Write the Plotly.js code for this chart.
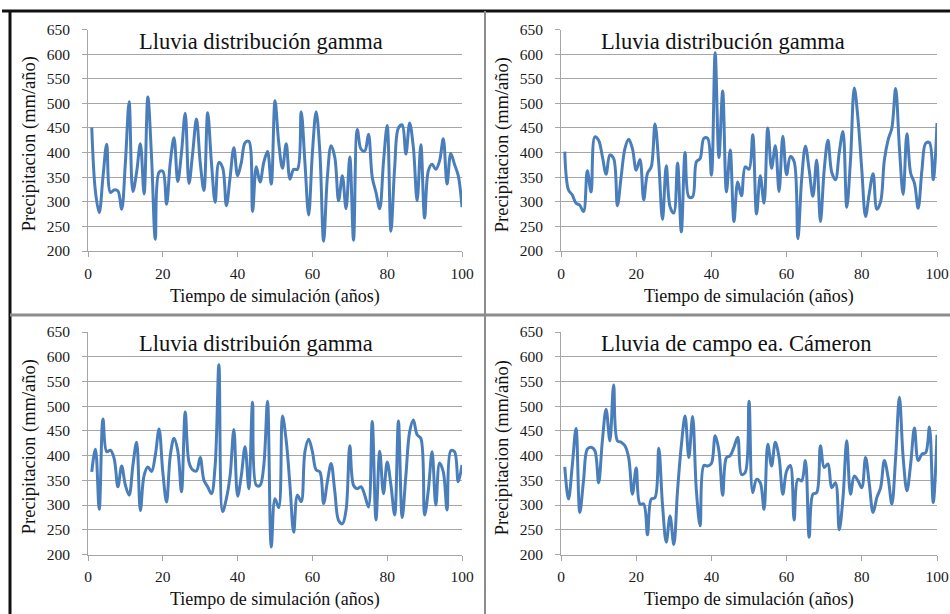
<!DOCTYPE html>
<html>
<head>
<meta charset="utf-8">
<script src="https://cdn.plot.ly/plotly-3.0.1.min.js"></script>
<style>
  html, body { margin: 0; padding: 0; background: #ffffff; }
  #chart { width: 950px; height: 614px; }
</style>
</head>
<body>
<div id="chart"></div>
<script>
// Annual rainfall series (mm/año), one value per simulated year 1..100
const lluviaGamma1 = [
  451, 320, 278, 350, 417, 319, 324, 322, 285, 380,
  503, 321, 360, 418, 316, 513, 390, 224, 360, 362,
  295, 380, 430, 341, 400, 480, 337, 400, 468, 380,
  323, 481, 380, 299, 380, 369, 292, 350, 410, 353,
  380, 420, 423, 280, 371, 340, 380, 402, 336, 505,
  420, 368, 418, 346, 366, 366, 483, 380, 273, 400,
  483, 400, 220, 350, 414, 390, 302, 353, 286, 391,
  222, 447, 407, 403, 437, 350, 319, 286, 380, 455,
  240, 370, 450, 456, 397, 460, 410, 302, 416, 267,
  363, 376, 366, 383, 428, 336, 398, 376, 353, 289
];
const lluviaGamma2 = [
  402, 324, 314, 297, 293, 280, 363, 320, 432, 425,
  392, 356, 395, 388, 292, 351, 408, 427, 408, 364,
  386, 304, 358, 371, 458, 378, 264, 373, 290, 277,
  379, 239, 400, 310, 310, 381, 388, 429, 429, 354,
  603, 390, 525, 320, 405, 260, 340, 312, 371, 366,
  436, 275, 353, 297, 450, 368, 414, 321, 433, 355,
  392, 382, 225, 345, 413, 365, 311, 385, 260, 365,
  425, 360, 345, 400, 443, 289, 385, 531, 467, 365,
  270, 318, 357, 285, 300, 385, 426, 450, 530, 410,
  315, 438, 358, 338, 287, 365, 419, 420, 345, 460
];
const lluviaGamma3 = [
  367, 413, 291, 474, 408, 411, 394, 337, 379, 340,
  320, 380, 427, 289, 360, 377, 368, 401, 454, 367,
  306, 400, 435, 410, 327, 488, 387, 371, 369, 396,
  350, 337, 323, 380, 584, 287, 313, 360, 453, 318,
  360, 418, 333, 508, 340, 340, 380, 510, 215, 313,
  295, 480, 430, 340, 245, 320, 307, 408, 433, 408,
  371, 367, 303, 347, 384, 327, 269, 262, 290, 420,
  340, 333, 337, 320, 296, 469, 270, 409, 323, 387,
  340, 280, 470, 275, 360, 448, 472, 442, 435, 280,
  330, 408, 300, 385, 367, 290, 410, 408, 347, 381
];
const lluviaCampo = [
  377, 312, 380, 455, 285, 350, 413, 417, 410, 345,
  430, 494, 430, 543, 430, 427, 420, 396, 322, 375,
  302, 302, 240, 312, 315, 415, 300, 225, 278, 220,
  330, 420, 480, 396, 479, 330, 258, 380, 379, 384,
  440, 410, 320, 396, 400, 417, 437, 362, 366, 510,
  325, 352, 345, 291, 423, 379, 427, 396, 322, 369,
  380, 270, 352, 349, 390, 235, 322, 325, 420, 376,
  383, 335, 345, 250, 315, 430, 322, 359, 349, 335,
  396, 342, 285, 315, 335, 390, 356, 302, 396, 518,
  396, 329, 383, 456, 390, 403, 406, 458, 305, 442
];

const panelTitles = [
  'Lluvia distribución gamma',
  'Lluvia distribución gamma',
  'Lluvia distribuión gamma',
  'Lluvia de campo ea. Cámeron'
];
const xTickVals = [0, 20, 40, 60, 80, 100];
const yTickVals = [200, 250, 300, 350, 400, 450, 500, 550, 600, 650];
const xAxisLabel = 'Tiempo de simulación (años)';
const yAxisLabel = 'Precipitacion (mm/año)';

const years = [];
for (let i = 1; i <= 100; i++) years.push(i);

// figure geometry in pixels
const W = 950, H = 614;
const fx = px => px / W;
const fy = py => 1 - py / H;

const panels = [
  { data: lluviaGamma1, left: 88,  right: 462, top: 29.5, bottom: 251, titleX: 137 },
  { data: lluviaGamma2, left: 561, right: 937, top: 29.5, bottom: 251, titleX: 599 },
  { data: lluviaGamma3, left: 88,  right: 462, top: 332,  bottom: 554.5, titleX: 137 },
  { data: lluviaCampo,  left: 561, right: 937, top: 332,  bottom: 554.5, titleX: 599 }
];

const serif = '"Liberation Serif", "DejaVu Serif", serif';
const lineBlue = '#4a7ebb';
const gridGray = '#a6a6a6';

const traces = [];
const layout = {
  width: W, height: H,
  margin: { l: 0, r: 0, t: 0, b: 0 },
  paper_bgcolor: '#ffffff',
  plot_bgcolor: '#ffffff',
  showlegend: false,
  font: { family: serif, size: 13, color: '#1a1a1a' },
  annotations: [],
  shapes: []
};

panels.forEach((p, i) => {
  const k = i === 0 ? '' : String(i + 1);
  traces.push({
    x: years, y: p.data,
    xaxis: 'x' + k, yaxis: 'y' + k,
    type: 'scatter', mode: 'lines',
    line: { color: lineBlue, width: 3, shape: 'spline', smoothing: 1 },
    hoverinfo: 'x+y'
  });
  layout['xaxis' + k] = {
    domain: [fx(p.left), fx(p.right)],
    anchor: 'y' + k,
    range: [0, 100],
    tickvals: xTickVals,
    ticks: 'outside', ticklen: 5, tickcolor: gridGray, tickwidth: 1,
    showline: true, linecolor: gridGray, linewidth: 1,
    showgrid: false, zeroline: false,
    tickfont: { family: serif, size: 15.5, color: '#1a1a1a' },
    ticklabelstandoff: 3
  };
  layout['yaxis' + k] = {
    domain: [fy(p.bottom), fy(p.top)],
    anchor: 'x' + k,
    range: [200, 650],
    tickvals: yTickVals,
    ticks: 'outside', ticklen: 5, tickcolor: gridGray, tickwidth: 1,
    showline: true, linecolor: gridGray, linewidth: 1,
    showgrid: true, gridcolor: gridGray, gridwidth: 1,
    zeroline: false,
    tickfont: { family: serif, size: 15.5, color: '#1a1a1a' },
    ticklabelstandoff: 9
  };
  // panel heading inside the plotting area
  layout.annotations.push({
    xref: 'paper', yref: 'paper',
    x: fx(p.titleX), y: fy(p.top + 11.5),
    xanchor: 'left', yanchor: 'middle',
    text: panelTitles[i], showarrow: false,
    font: { family: serif, size: 22.5, color: '#111111' }
  });
  // x axis title
  layout.annotations.push({
    xref: 'paper', yref: 'paper',
    x: fx((p.left + p.right) / 2), y: fy(p.bottom + 45),
    xanchor: 'center', yanchor: 'middle',
    text: xAxisLabel, showarrow: false,
    font: { family: serif, size: 18, color: '#111111' }
  });
  // y axis title
  layout.annotations.push({
    xref: 'paper', yref: 'paper',
    x: fx(p.left - 59), y: fy((p.top + p.bottom) / 2 + 4),
    xanchor: 'center', yanchor: 'middle',
    text: yAxisLabel, showarrow: false, textangle: -90,
    font: { family: serif, size: 18.5, color: '#111111' }
  });
});

// frame lines around the four panels
const frame = (x0, y0, x1, y1, color, width) => ({
  type: 'line', xref: 'paper', yref: 'paper',
  x0: fx(x0), y0: fy(y0), x1: fx(x1), y1: fy(y1),
  line: { color: color, width: width }
});
layout.shapes.push(frame(2, 11, 950, 11, '#111111', 3));
layout.shapes.push(frame(10, 11, 10, 614, '#111111', 3));
layout.shapes.push(frame(485, 11, 485, 614, '#8c8c8c', 2));
layout.shapes.push(frame(10, 315, 950, 315, '#8c8c8c', 3));

Plotly.newPlot('chart', traces, layout, { displayModeBar: false, staticPlot: true });
</script>
</body>
</html>
